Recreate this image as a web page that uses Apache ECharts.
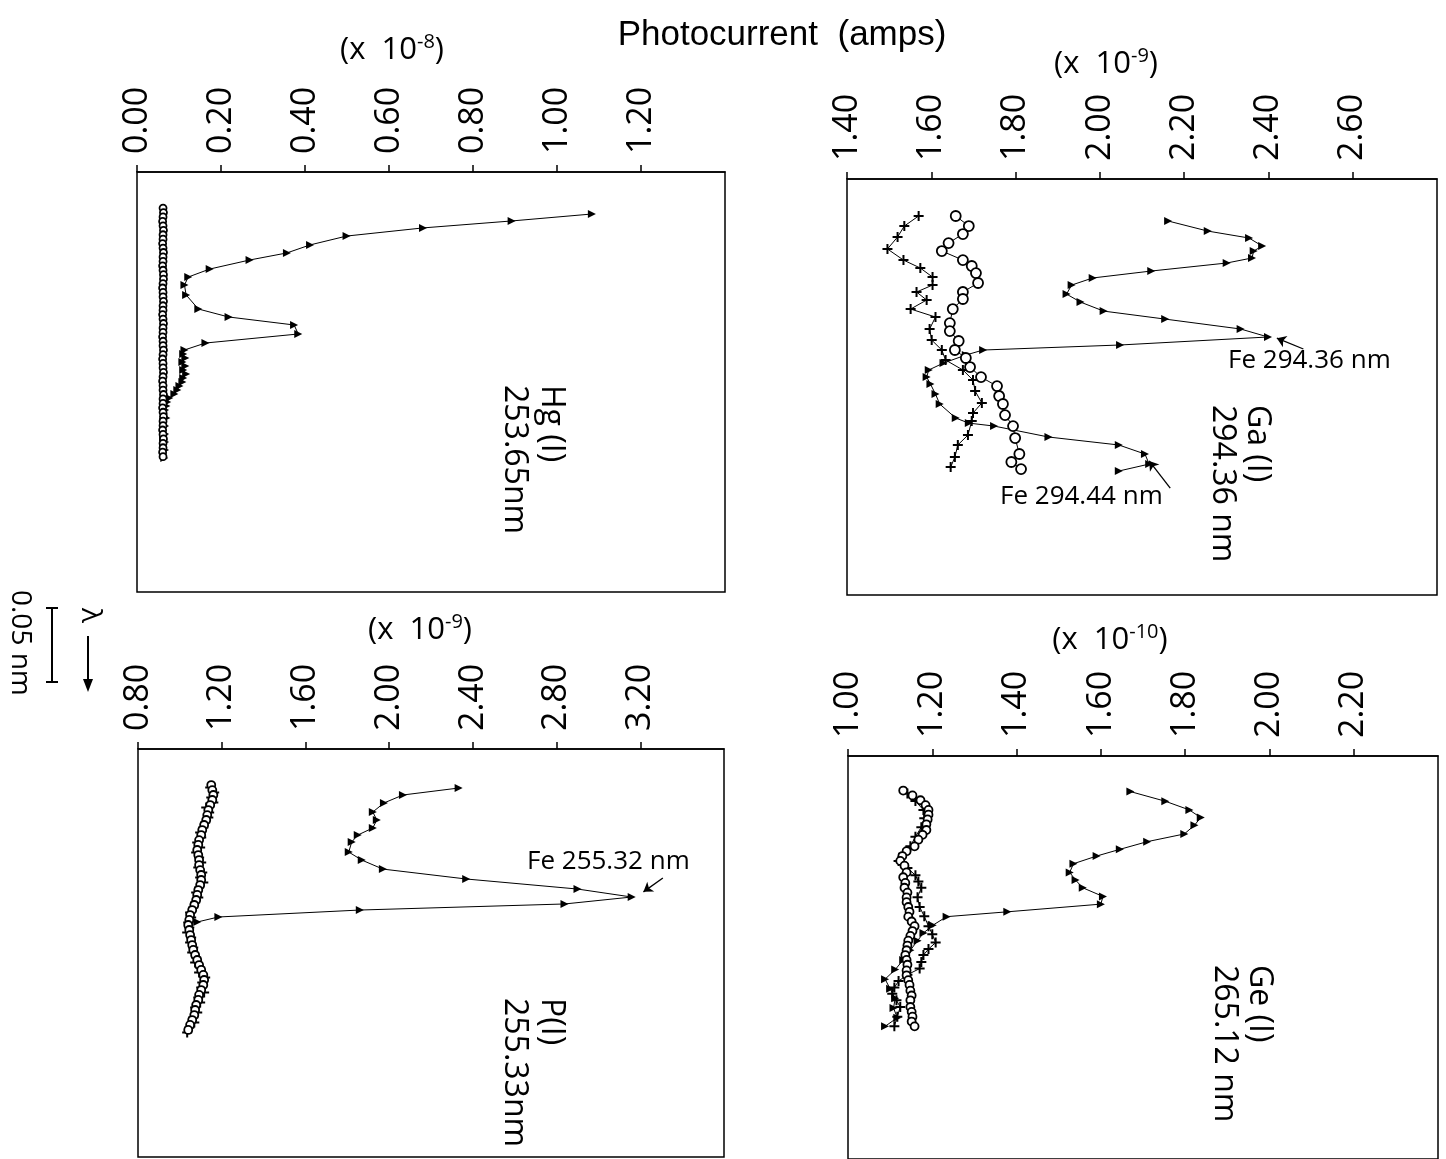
<!DOCTYPE html>
<html><head><meta charset="utf-8">
<script src="https://cdn.jsdelivr.net/npm/echarts/dist/echarts.min.js"></script>
<style>html,body{margin:0;padding:0;background:#fff}#c{width:1446px;height:1159px}</style>
</head><body><div id="c"></div>
<script>
// Wavelength positions are offsets in pm (downward = longer wavelength); currents in the panel's units.
// ---- Hg(I) 253.65 nm panel (x 10^-8 A) ----
const hgTriLam = [23.0, 27.7, 32.4, 37.9, 43.9, 49.3, 54.1, 60.2, 65.6, 71.0, 77.7, 87.2, 92.6, 98.0, 104.1, 110.2, 114.9,
  117.6, 120.3, 123.0, 125.7, 128.4, 131.1, 133.8, 136.6, 139.3, 142.0, 144.7, 147.4, 150.1, 152.8, 155.5, 158.2, 160.9,
  163.6, 166.3, 169.0, 171.7, 174.4, 177.1, 179.8, 182.5, 185.2, 187.9];
const hgTriVal = [1.083, 0.892, 0.681, 0.499, 0.412, 0.357, 0.268, 0.173, 0.122, 0.113, 0.117, 0.146, 0.218, 0.374, 0.384, 0.163, 0.113,
  0.110, 0.115, 0.108, 0.115, 0.110, 0.117, 0.110, 0.108, 0.101, 0.096, 0.089, 0.077, 0.072, 0.070, 0.067, 0.065, 0.070,
  0.062, 0.067, 0.062, 0.067, 0.062, 0.067, 0.062, 0.067, 0.062, 0.065];
const hgCircLam = [19, 22, 25, 28, 31, 34, 37, 40, 43, 46, 49, 52, 55, 58, 61, 64, 67, 70, 73, 76, 79, 82, 85, 88, 91, 94, 97,
  100, 103, 106, 109, 112, 115, 118, 121, 124, 127, 130, 133, 136, 139, 142, 145, 148, 151, 154, 157, 160, 163, 166, 169,
  172, 175, 178, 181, 184, 187];
const hgCircVal = [0.062, 0.063, 0.062, 0.061, 0.062, 0.063, 0.062, 0.062, 0.061, 0.062,
  0.063, 0.062, 0.062, 0.061, 0.062, 0.063, 0.063, 0.062, 0.061, 0.062,
  0.062, 0.063, 0.062, 0.062, 0.061, 0.062, 0.063, 0.062, 0.062, 0.061,
  0.062, 0.062, 0.063, 0.062, 0.061, 0.062, 0.062, 0.063, 0.062, 0.061,
  0.062, 0.062, 0.063, 0.062, 0.062, 0.061, 0.062, 0.063, 0.062, 0.062,
  0.061, 0.062, 0.063, 0.062, 0.062, 0.061, 0.062];

// ---- Ga(I) 294.36 nm panel (x 10^-9 A) ----
const gaTriLam = [10.8, 17.6, 22.3, 27.7, 31.1, 35.8, 39.2, 44.6, 49.3, 54.1, 60.2, 65.6, 71.7, 77.1, 83.8, 89.2, 94.6, 98.0,
  101.4, 106.8, 111.5, 116.3, 121.0, 127.8, 134.5, 144.0, 147.4, 149.4, 156.8, 162.2, 168.3, 175.1, 179.8];
const gaTriVal = [2.162, 2.256, 2.354, 2.385, 2.365, 2.361, 2.301, 2.122, 1.983, 1.933, 1.921, 1.954, 2.009, 2.155, 2.334, 2.399, 2.048, 1.723,
  1.682, 1.629, 1.594, 1.589, 1.598, 1.610, 1.620, 1.658, 1.689, 1.749, 1.878, 2.045, 2.107, 2.117, 2.045];
const gaCircLam = [7.4, 14.2, 19.6, 25.7, 31.1, 37.2, 41.2, 46.0, 52.7, 58.8, 63.5, 70.3, 79.8, 85.2, 91.9, 98.0, 103.4, 109.5,
  116.3, 122.4, 129.1, 134.5, 142.0, 149.4, 157.5, 168.3, 173.7, 178.5];
const gaCircVal = [1.658, 1.689, 1.675, 1.641, 1.625, 1.675, 1.696, 1.706, 1.711, 1.675, 1.675, 1.651, 1.644, 1.644, 1.665, 1.656, 1.682, 1.692,
  1.718, 1.756, 1.761, 1.770, 1.775, 1.794, 1.799, 1.809, 1.790, 1.813];
const gaCrossLam = [7.4, 14.2, 21.6, 29.7, 37.2, 42.6, 48.7, 54.1, 58.8, 64.2, 70.3, 75.7, 83.8, 91.3, 98.0, 104.8, 111.5, 118.3,
  125.7, 133.8, 140.6, 146.0, 155.5, 162.2, 170.4, 177.1];
const gaCrossVal = [1.570, 1.536, 1.520, 1.496, 1.534, 1.574, 1.603, 1.603, 1.565, 1.589, 1.551, 1.610, 1.596, 1.601, 1.625, 1.634, 1.675, 1.699,
  1.704, 1.720, 1.699, 1.696, 1.687, 1.663, 1.656, 1.646];

// ---- P(I) 255.33 nm panel (x 10^-9 A) ----
const pTriLam = [22.3, 27.0, 32.4, 38.5, 43.9, 49.3, 54.1, 58.8, 65.6, 71.0, 77.1, 83.8, 90.6, 96.0, 100.7, 104.8, 109.5, 112.9];
const pTriVal = [2.332, 2.066, 1.975, 1.922, 1.941, 1.922, 1.850, 1.821, 1.807, 1.869, 1.970, 2.368, 2.900, 3.159, 2.838, 1.860, 1.184, 1.083];
const pCircLam = [20.3, 23.7, 27.0, 30.4, 33.8, 37.2, 40.6, 43.9, 47.3, 50.7, 54.1, 57.5, 60.8, 64.2, 67.6, 71.0, 74.4, 77.8, 81.1, 84.5,
  87.9, 91.3, 94.6, 98.0, 101.4, 104.8, 108.2, 111.5, 114.9, 118.3, 121.7, 125.1, 128.5, 131.8, 135.2, 138.6, 142.0, 145.3, 148.7, 152.1,
  155.5, 158.9, 162.2, 165.6, 169.0, 172.4, 175.8, 179.2, 182.5, 185.9];
const pCircVal = [1.150, 1.155, 1.160, 1.155, 1.145, 1.136, 1.131, 1.126, 1.116, 1.107,
  1.102, 1.092, 1.088, 1.083, 1.088, 1.092, 1.092, 1.097, 1.102, 1.102,
  1.097, 1.088, 1.083, 1.078, 1.069, 1.059, 1.049, 1.045, 1.040, 1.045,
  1.049, 1.054, 1.059, 1.064, 1.073, 1.083, 1.092, 1.102, 1.112, 1.116,
  1.112, 1.102, 1.092, 1.088, 1.078, 1.073, 1.069, 1.059, 1.049, 1.040];
const pCrossLam = [22.0, 25.4, 28.7, 32.1, 35.5, 38.9, 42.3, 45.6, 49.0, 52.4, 55.8, 59.2, 62.5, 65.9, 69.3, 72.7, 76.1, 79.4, 82.8, 86.2,
  89.6, 93.0, 96.3, 99.7, 103.1, 106.5, 109.9, 113.2, 116.6, 120.0, 123.4, 126.8, 130.1, 133.5, 136.9, 140.3, 143.7, 147.0, 150.4, 153.8,
  157.2, 160.6, 163.9, 167.3, 170.7, 174.1, 177.5, 180.8, 184.2, 187.6];
const pCrossVal = [1.145, 1.164, 1.150, 1.160, 1.126, 1.140, 1.136, 1.121, 1.112, 1.097,
  1.102, 1.083, 1.097, 1.078, 1.092, 1.102, 1.088, 1.107, 1.097, 1.112,
  1.092, 1.078, 1.088, 1.073, 1.064, 1.049, 1.054, 1.040, 1.045, 1.035,
  1.054, 1.049, 1.064, 1.059, 1.078, 1.073, 1.097, 1.092, 1.121, 1.107,
  1.102, 1.116, 1.088, 1.097, 1.073, 1.083, 1.064, 1.069, 1.045, 1.035];

// ---- Ge(I) 265.12 nm panel (x 10^-10 A) ----
const geTriLam = [22.3, 29.1, 35.2, 40.6, 46.0, 52.1, 57.5, 62.9, 67.6, 73.0, 79.1, 84.5, 89.9, 96.0, 101.4, 106.8, 110.2, 116.3, 121.7,
  127.1, 133.8, 140.6, 147.4, 154.1, 160.9, 167.6, 174.4, 181.2, 187.3];
const geTriVal = [1.670, 1.753, 1.810, 1.837, 1.822, 1.798, 1.710, 1.645, 1.590, 1.535, 1.526, 1.540, 1.557, 1.605, 1.600, 1.378, 1.234, 1.201, 1.179,
  1.165, 1.148, 1.131, 1.112, 1.088, 1.100, 1.112, 1.108, 1.117, 1.088];
const geCircLam = [21.6, 25.0, 28.4, 31.8, 35.2, 38.5, 41.9, 45.3, 49.3, 52.7, 56.1, 60.8, 64.2, 67.6, 71.0, 74.4, 79.1, 82.5, 86.5, 89.9,
  93.3, 96.7, 100.0, 103.4, 106.8, 110.2, 113.6, 116.9, 120.3, 123.7, 127.1, 130.5, 133.8, 137.2, 140.6, 144.0, 148.0, 151.4, 154.8, 158.2,
  162.2, 165.6, 169.0, 173.7, 177.1, 180.5, 183.9, 187.3];
const geCircVal = [1.131, 1.153, 1.172, 1.184, 1.191, 1.191, 1.189, 1.186, 1.186, 1.177,
  1.167, 1.158, 1.139, 1.129, 1.124, 1.134, 1.139, 1.131, 1.136, 1.134,
  1.141, 1.139, 1.139, 1.143, 1.146, 1.143, 1.151, 1.158, 1.153, 1.148,
  1.143, 1.141, 1.139, 1.136, 1.139, 1.141, 1.139, 1.139, 1.143, 1.146,
  1.148, 1.151, 1.148, 1.148, 1.151, 1.153, 1.151, 1.158];
const geCrossLam = [23.7, 29.0, 35.2, 41.0, 47.3, 54.0, 60.8, 66.0, 71.0, 76.0, 81.1, 85.5, 89.9, 96.5, 103.4, 110.0, 116.9, 122.5,
  128.4, 133.0, 137.2, 142.0, 146.7, 151.0, 155.5, 160.0, 164.3, 169.0, 173.7, 180.5, 187.3];
const geCrossVal = [1.141, 1.160, 1.179, 1.181, 1.174, 1.160, 1.148, 1.131, 1.120, 1.141, 1.160, 1.167, 1.174, 1.165, 1.170, 1.181, 1.191, 1.200,
  1.208, 1.191, 1.179, 1.174, 1.170, 1.141, 1.120, 1.110, 1.105, 1.115, 1.124, 1.117, 1.110];

// Arrow annotations [current, wavelength offset]
const gaFe1Arrow = [[2.483, 97.3], [2.420, 90.0]];
const gaFe2Arrow = [[2.167, 191.3], [2.117, 173.0]];
const pFeArrow = [[3.308, 83.1], [3.215, 92.5]];

// Axis ranges
const xRanges = [[0, 1.4, 0.2], [1.4, 2.8, 0.2], [0.8, 3.6, 0.4], [1.0, 2.4, 0.2]];
const yRanges = [[-5.4, 278.5], [-17.6, 263.6], [-4.1, 271.8], [-2.7, 280.5]];

const zip = (v, l) => v.map((x, i) => [x, l[i]]);
const FONT = "'Open Sans', 'Noto Sans', 'DejaVu Sans', sans-serif";
const TITLEFONT = "'Liberation Sans Narrow', 'Liberation Sans', sans-serif";
const K = '#000';
const crossPath = 'path://M4,0 L6,0 L6,4 L10,4 L10,6 L6,6 L6,10 L4,10 L4,6 L0,6 L0,4 L4,4 Z';

const grids = [
  {left: 137, top: 172, width: 588, height: 420},
  {left: 847, top: 179, width: 590, height: 416},
  {left: 138, top: 749, width: 586, height: 408},
  {left: 848, top: 756, width: 590, height: 419}
];

const xAxis = xRanges.map((r, i) => ({
  type: 'value', gridIndex: i, position: 'top', min: r[0], max: r[1], interval: r[2],
  axisLine: {show: true, onZero: false, lineStyle: {color: K, width: 1.5}},
  axisTick: {show: true, length: 7, lineStyle: {color: K, width: 1.5}},
  splitLine: {show: false},
  axisLabel: {show: true, rotate: -90, margin: 18, showMaxLabel: false, color: K, fontFamily: FONT, fontSize: 34,
    formatter: v => v.toFixed(2)}
}));
const yAxis = yRanges.map((r, i) => ({
  type: 'value', gridIndex: i, inverse: true, min: r[0], max: r[1], show: false, splitLine: {show: false}
}));

function tri(i, v, l) {
  return {type: 'line', xAxisIndex: i, yAxisIndex: i, data: zip(v, l), symbol: 'triangle', symbolRotate: -90,
    symbolSize: 8, showSymbol: true, lineStyle: {color: K, width: 1}, itemStyle: {color: K}, silent: true, z: 3};
}
function circ(i, v, l, size, bw) {
  return {type: 'line', xAxisIndex: i, yAxisIndex: i, data: zip(v, l), symbol: 'circle', symbolSize: size || 7,
    showSymbol: true, lineStyle: {color: K, width: 1}, itemStyle: {color: '#fff', borderColor: K, borderWidth: bw || 1.5}, silent: true, z: 4};
}
function cross(i, v, l) {
  return {type: 'line', xAxisIndex: i, yAxisIndex: i, data: zip(v, l), symbol: crossPath, symbolSize: 10,
    showSymbol: true, lineStyle: {color: K, width: 1}, itemStyle: {color: K}, silent: true, z: 3};
}
function arrowLine(i, pts) {
  return {type: 'line', xAxisIndex: i, yAxisIndex: i, data: [], silent: true,
    markLine: {silent: true, symbol: ['none', 'arrow'], symbolSize: 9, label: {show: false},
      lineStyle: {color: K, width: 1.3, type: 'solid'}, data: [[{coord: pts[0]}, {coord: pts[1]}]]}};
}

const series = [
  tri(0, hgTriVal, hgTriLam), circ(0, hgCircVal, hgCircLam, 7, 1.8),
  tri(1, gaTriVal, gaTriLam), circ(1, gaCircVal, gaCircLam, 10, 1.8), cross(1, gaCrossVal, gaCrossLam),
  tri(2, pTriVal, pTriLam), circ(2, pCircVal, pCircLam, 8, 1.8), cross(2, pCrossVal, pCrossLam),
  tri(3, geTriVal, geTriLam), circ(3, geCircVal, geCircLam, 8, 1.8), cross(3, geCrossVal, geCrossLam),
  arrowLine(1, gaFe1Arrow), arrowLine(1, gaFe2Arrow), arrowLine(2, pFeArrow)
];

const ROT = -Math.PI / 2;
function vtext(x, y, text, size) {
  return {type: 'text', x: x, y: y, rotation: ROT, silent: true,
    style: {text: text, fill: K, font: `${size}px ${FONT}`, textAlign: 'left', textVerticalAlign: 'middle'}};
}
function htext(x, y, text, size) {
  return {type: 'text', x: x, y: y, silent: true,
    style: {text: text, fill: K, font: `${size}px ${FONT}`, textAlign: 'left', textVerticalAlign: 'middle'}};
}
function unitText(cx, cy, exp) {
  return {type: 'text', x: cx, y: cy, silent: true,
    style: {text: '{a|(x  10}{s|' + exp + '}{a|)}', textAlign: 'center', textVerticalAlign: 'middle',
      rich: {a: {fontSize: 31, fontFamily: FONT, fill: K, lineHeight: 36},
             s: {fontSize: 20, fontFamily: FONT, fill: K, verticalAlign: 'top', lineHeight: 36}}}};
}

const graphic = [
  {type: 'text', x: 782, y: 35, silent: true,
    style: {text: 'Photocurrent  (amps)', fill: K, font: `35px ${TITLEFONT}`, textAlign: 'center', textVerticalAlign: 'middle'}},
  unitText(392, 50, '-8'), unitText(1106, 64, '-9'), unitText(420, 630, '-9'), unitText(1110, 640, '-10'),
  vtext(551, 385, 'Hg (I)', 32), vtext(514, 385, '253.65nm', 32),
  vtext(1257, 405, 'Ga (I)', 32), vtext(1222, 405, '294.36 nm', 32),
  vtext(551, 998, 'P(I)', 32), vtext(514, 998, '255.33nm', 32),
  vtext(1259, 965, 'Ge (I)', 32), vtext(1224, 965, '265.12 nm', 32),
  htext(1228, 361, 'Fe 294.36 nm', 26), htext(1000, 497, 'Fe 294.44 nm', 26), htext(527, 862, 'Fe 255.32 nm', 26),
  vtext(20, 590, '0.05 nm', 28),
  {type: 'line', silent: true, shape: {x1: 52, y1: 608, x2: 52, y2: 682}, style: {stroke: K, lineWidth: 2}},
  {type: 'line', silent: true, shape: {x1: 46, y1: 608, x2: 58, y2: 608}, style: {stroke: K, lineWidth: 2}},
  {type: 'line', silent: true, shape: {x1: 46, y1: 682, x2: 58, y2: 682}, style: {stroke: K, lineWidth: 2}},
  vtext(90, 608, 'λ', 28),
  {type: 'line', silent: true, shape: {x1: 88, y1: 636, x2: 88, y2: 684}, style: {stroke: K, lineWidth: 2}},
  {type: 'polygon', silent: true, shape: {points: [[83, 679], [93, 679], [88, 692]]}, style: {fill: K}}
];

const chart = echarts.init(document.getElementById('c'));
chart.setOption({
  animation: false, backgroundColor: '#fff',
  grid: grids.map(g => Object.assign({show: true, borderColor: K, borderWidth: 1.5, backgroundColor: 'transparent'}, g)),
  xAxis: xAxis, yAxis: yAxis, series: series, graphic: graphic
});
</script></body></html>
